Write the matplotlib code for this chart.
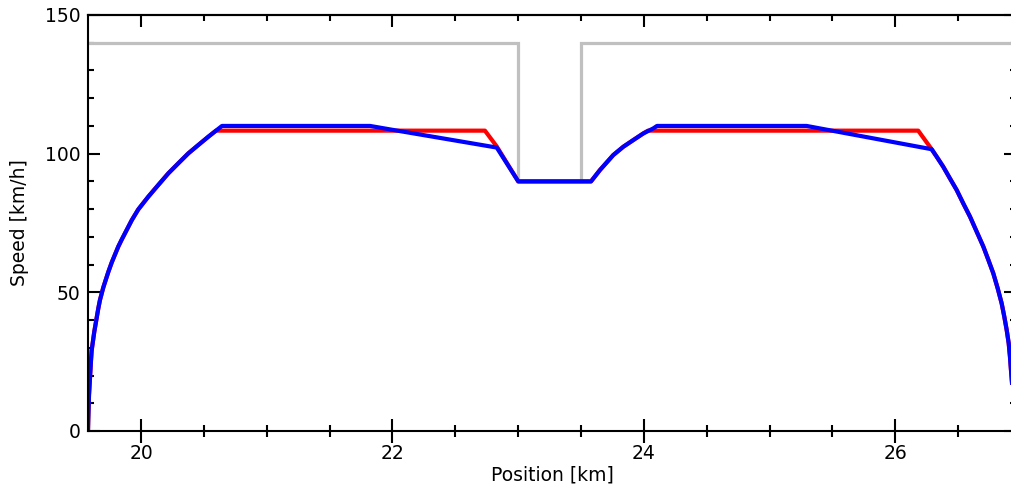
import matplotlib
matplotlib.use("Agg")
import matplotlib.pyplot as plt
from matplotlib.ticker import MultipleLocator

# speed limit along the line
limit_pos = [19.578, 23.0, 23.0, 23.5, 23.5, 26.961]
limit_speed = [140, 140, 90, 90, 140, 140]

# start-up acceleration (shared by both runs)
accel_pos = [19.578, 19.580, 19.586, 19.602, 19.607, 19.628, 19.660, 19.673,
             19.700, 19.740, 19.767, 19.819, 19.846, 19.926, 19.978, 20.058, 20.137,
             20.217, 20.296, 20.376, 20.455, 20.535, 20.588]
accel_speed = [0, 4, 13, 25.6, 29, 35.8, 44.2, 47.2,
               51.8, 57.4, 60.8, 66.5, 69.0, 76, 79.9, 84.5, 88.7,
               92.9, 96.5, 100.1, 103.1, 106.1, 108]

# re-acceleration after the restricted section
reaccel_pos = [23.001, 23.580, 23.651, 23.757, 23.837, 23.916, 23.996]
reaccel_speed = [90, 90, 94.1, 99.5, 102.5, 104.9, 107.3]

# final braking (shared)
brake_pos = [26.290, 26.330, 26.382, 26.435, 26.489, 26.541, 26.595, 26.648, 26.701,
             26.741, 26.780, 26.815, 26.847, 26.868, 26.887, 26.903, 26.913, 26.921,
             26.937, 26.953, 26.961]
brake_speed = [101.6, 98.9, 95.3, 91.1, 86.9, 82.1, 77.3, 71.9, 66.5,
               61.7, 56.9, 51.5, 46.0, 41.2, 36.4, 31.6, 26.8, 22,
               13, 5, 0]

# cruising / coasting sections
blue_mid1_pos = [20.644, 21.822, 22.000, 22.830]
blue_mid1_speed = [110, 110, 108.6, 102.2]
blue_mid2_pos = [24.075, 24.105, 25.295]
blue_mid2_speed = [109.1, 110, 110]

red_mid1_pos = [20.596, 22.736, 22.830]
red_mid1_speed = [108.3, 108.3, 102.6]
red_mid2_pos = [24.033, 26.183]
red_mid2_speed = [108.3, 108.3]

blue_pos = accel_pos + blue_mid1_pos + reaccel_pos + blue_mid2_pos + brake_pos
blue_speed = accel_speed + blue_mid1_speed + reaccel_speed + blue_mid2_speed + brake_speed
red_pos = accel_pos + red_mid1_pos + reaccel_pos + red_mid2_pos + brake_pos
red_speed = accel_speed + red_mid1_speed + reaccel_speed + red_mid2_speed + brake_speed

fs = 13.5
W, H = 1011, 492
fig = plt.figure(figsize=(W / 100, H / 100), dpi=100)
ax = fig.add_axes([88 / W, 1 - 431 / H, (1016 - 88) / W, (431 - 15) / H])

ax.plot(limit_pos, limit_speed, color="#c0c0c0", lw=2.3, solid_joinstyle="miter")
ax.plot(red_pos, red_speed, color="#ff0000", lw=3.0)
ax.plot(blue_pos, blue_speed, color="#0000ff", lw=3.0)

ax.set_xlim(19.578, 26.961)
ax.set_ylim(0, 150)

for s in ax.spines.values():
    s.set_linewidth(1.5)

ax.xaxis.set_major_locator(MultipleLocator(2))
ax.xaxis.set_minor_locator(MultipleLocator(0.5))
ax.yaxis.set_major_locator(MultipleLocator(50))
ax.yaxis.set_minor_locator(MultipleLocator(10))

ax.tick_params(axis="x", which="major", direction="inout", length=17, width=1.5,
               labelsize=fs, pad=1, top=False)
ax.tick_params(axis="x", which="minor", direction="inout", length=9, width=1.5, top=False)
ax.tick_params(axis="y", which="major", direction="in", length=8.6, width=1.5,
               labelsize=fs, pad=5.5, right=True)
ax.tick_params(axis="y", which="minor", direction="in", length=4.3, width=1.5, right=True)

# top ticks point inward only
top = ax.secondary_xaxis("top")
top.xaxis.set_major_locator(MultipleLocator(2))
top.xaxis.set_minor_locator(MultipleLocator(0.5))
top.tick_params(which="major", direction="in", length=8.6, width=1.5, labeltop=False)
top.tick_params(which="minor", direction="in", length=4.3, width=1.5)
top.spines["top"].set_linewidth(1.5)

ax.set_xlabel("Position [km]", fontsize=fs, labelpad=2)
ax.set_ylabel("Speed [km/h]", fontsize=fs, labelpad=11)

fig.savefig("out.png", dpi=100)
